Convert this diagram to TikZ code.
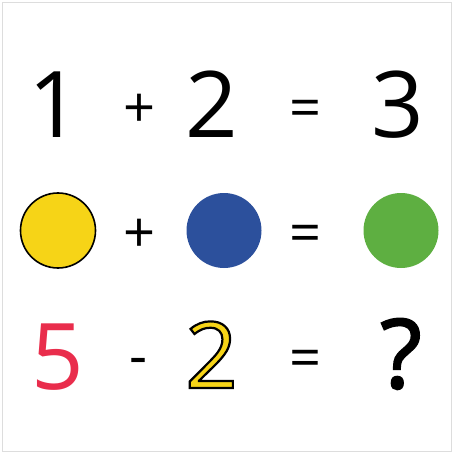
\documentclass[tikz,border=0pt]{standalone}
\usepackage{fontspec}
\setmainfont{Open Sans}
\definecolor{frame}{HTML}{DDDDDD}
\definecolor{ylw}{HTML}{F6D417}
\definecolor{blu}{HTML}{2C509C}
\definecolor{grn}{HTML}{5EAF41}
\definecolor{rd}{HTML}{E92D4C}
\newcommand{\outlined}[1]{\special{pdf:code 2 Tr 2.2 w 0 0 0 RG}#1\special{pdf:code 0 Tr 1 w}}
\tikzset{
  big/.style={anchor=base, inner sep=0pt, font=\fontsize{92}{92}\selectfont},
  op/.style={anchor=base, inner sep=0pt, font=\fontsize{56}{56}\selectfont},
  dot/.style={circle, inner sep=0pt, minimum size=75pt}
}
\begin{document}
\begin{tikzpicture}[x=1pt,y=-1pt]
\useasboundingbox (0,0) rectangle (454,454);
\draw[frame, line width=1.5pt] (2.5,2.5) rectangle (451.5,451.5);
% row 1
\node[big] (one) at (55,138) {1};
\node[op] (plusA) at (140,128) {+};
\node[big] (two) at (211.5,138) {2};
\node[op] (eqA) at (306,128) {=};
\node[big] (three) at (398,138) {3};
% row 2
\node[dot, fill=ylw, draw=black, line width=1.6pt] (ycirc) at (58,230.5) {};
\node[op] (plusB) at (140,252) {+};
\node[dot, fill=blu] (bcirc) at (224,230.5) {};
\node[op] (eqB) at (306,252) {=};
\node[dot, fill=grn] (gcirc) at (401,230.5) {};
% row 3
\node[big, text=rd] (five) at (58,389) {5};
\node[op] (minus) at (139,375) {-};
\node[big, text=ylw] (twoY) at (211.5,388) {\outlined{2}};
\node[op] (eqC) at (306,377) {=};
\node[big, font=\fontsize{96}{96}\selectfont\addfontfeature{FakeBold=2}] (qm) at (401,388) {?};
\end{tikzpicture}
\end{document}
